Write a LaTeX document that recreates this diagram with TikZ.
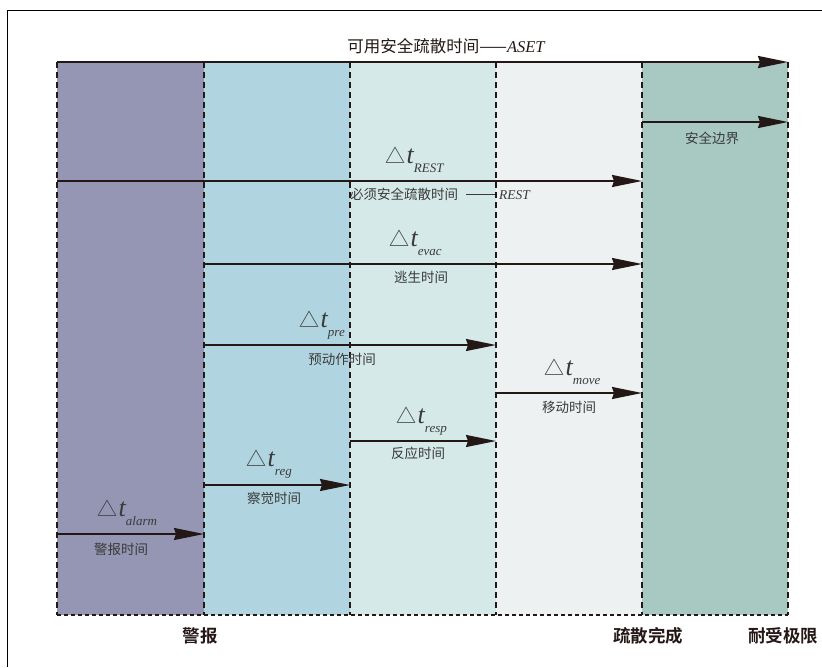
\documentclass[tikz,border=0pt]{standalone}
\usepackage{fontspec}
\setmainfont{Liberation Serif}
\newfontfamily\cjk{Noto Sans CJK SC}[BoldFont={Noto Sans CJK SC Bold}]
\usetikzlibrary{arrows.meta}
\definecolor{colA}{HTML}{9496B4}
\definecolor{colB}{HTML}{B0D5E0}
\definecolor{colC}{HTML}{D5E9E8}
\definecolor{colD}{HTML}{EDF1F2}
\definecolor{colE}{HTML}{A8C9C1}
\definecolor{ink}{HTML}{231815}
\definecolor{txt}{HTML}{3A3A3A}
\newcommand\dtlab[1]{{\cjk\fontsize{20}{20}\selectfont △}\hspace{1.5pt}{\fontsize{26}{26}\selectfont\itshape t}\raisebox{-9pt}{\fontsize{13}{13}\selectfont\itshape #1}}
\begin{document}
\begin{tikzpicture}[x=1pt,y=-1pt,
  vdline/.style={line width=1.8pt, dash pattern=on 6pt off 4pt, ink},
  hdline/.style={line width=1.8pt, dash pattern=on 4pt off 3pt, ink},
  arr/.style={line width=1.7pt, ink, -{Stealth[length=30pt,width=12pt,inset=2pt]}},
  lbl/.style={font=\cjk\fontsize{13.5}{13.5}\selectfont, text=txt, inner sep=0},
  dt/.style={anchor=base west, inner sep=0, text=txt},
  bottomlbl/.style={font=\cjk\bfseries\fontsize{17.5}{17.5}\selectfont, text=ink, inner sep=0}]
\useasboundingbox (0,0) rectangle (822,667);
% outer partial frame
\coordinate (fTL) at (7,10);
\coordinate (fTR) at (822,10);
\coordinate (fBL) at (7,667);
\draw[line width=1pt, black] (fTR) -- (fTL) -- (fBL);
% columns
\fill[colA] (57,62) rectangle (204,615);
\fill[colB] (204,62) rectangle (350,615);
\fill[colC] (350,62) rectangle (496,615);
\fill[colD] (496,62) rectangle (642,615);
\fill[colE] (642,62) rectangle (788,615);
% boundary coordinates
\foreach \n/\x in {0/57,1/204,2/350,3/496,4/642,5/788}{
  \coordinate (t\n) at (\x,62);
  \coordinate (b\n) at (\x,615);
}
\foreach \n in {0,...,5}{ \draw[vdline] (t\n) -- (b\n); }
\draw[hdline] (b0) -- (b5);
% top ASET arrow
\draw[arr, line width=2.2pt] (t0) -- (t5);
\node[font=\cjk\fontsize{16.5}{16.5}\selectfont, text=ink, inner sep=0] (aset) at (446,46) {可用安全疏散时间——{\fontspec{Liberation Serif}\itshape ASET}};
% safety margin
\coordinate (smS) at (642,122); \coordinate (smE) at (788,122);
\draw[arr] (smS) -- (smE);
\node[lbl] (smL) at (712,138) {安全边界};
% REST
\coordinate (reS) at (57,181); \coordinate (reE) at (642,181);
\draw[arr] (reS) -- (reE);
\node[dt] (reD) at (385,163) {\dtlab{REST}};
\node[lbl, anchor=west] (reL) at (350,194) {必须安全疏散时间\hspace{8pt}\rule[4pt]{29pt}{0.8pt}\hspace{4pt}{\fontspec{Liberation Serif}\itshape\fontsize{13.5}{13.5}\selectfont REST}};
% evac
\coordinate (evS) at (204,264); \coordinate (evE) at (642,264);
\draw[arr] (evS) -- (evE);
\node[dt] (evD) at (389,246) {\dtlab{evac}};
\node[lbl] (evL) at (421,277) {逃生时间};
% pre
\coordinate (prS) at (204,345); \coordinate (prE) at (496,345);
\draw[arr] (prS) -- (prE);
\node[dt] (prD) at (299,327) {\dtlab{pre}};
\node[lbl] (prL) at (342,359) {预动作时间};
% move
\coordinate (moS) at (496,393); \coordinate (moE) at (642,393);
\draw[arr] (moS) -- (moE);
\node[dt] (moD) at (544,375) {\dtlab{move}};
\node[lbl] (moL) at (569,407) {移动时间};
% resp
\coordinate (rsS) at (350,441); \coordinate (rsE) at (496,441);
\draw[arr] (rsS) -- (rsE);
\node[dt] (rsD) at (396,423) {\dtlab{resp}};
\node[lbl] (rsL) at (418,453) {反应时间};
% reg
\coordinate (rgS) at (204,485); \coordinate (rgE) at (350,485);
\draw[arr] (rgS) -- (rgE);
\node[dt] (rgD) at (246,466) {\dtlab{reg}};
\node[lbl] (rgL) at (274,498) {察觉时间};
% alarm
\coordinate (alS) at (57,534); \coordinate (alE) at (204,534);
\draw[arr] (alS) -- (alE);
\node[dt] (alD) at (97,516) {\dtlab{alarm}};
\node[lbl] (alL) at (121,549) {警报时间};
% bottom labels
\node[bottomlbl] (bl1) at (200,636) {警报};
\node[bottomlbl] (bl2) at (648,636) {疏散完成};
\node[bottomlbl] (bl3) at (783,636) {耐受极限};
\end{tikzpicture}
\end{document}
